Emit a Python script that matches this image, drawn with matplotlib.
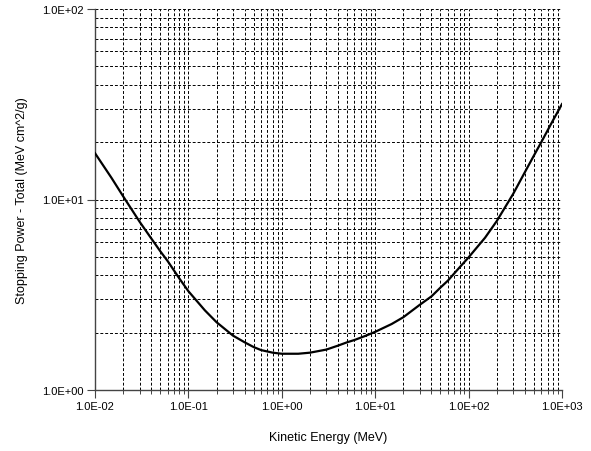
import numpy as np
import matplotlib
matplotlib.use("Agg")
import matplotlib.pyplot as plt
from matplotlib.ticker import LogLocator, FuncFormatter, NullFormatter

plt.rcParams["font.family"] = ["Liberation Sans", "DejaVu Sans"]

# kinetic energy (MeV) and total stopping power (MeV cm^2/g)
energy = [0.01, 0.015, 0.02, 0.03, 0.04, 0.05, 0.06, 0.08, 0.1, 0.15, 0.2, 0.3,
          0.4, 0.5, 0.6, 0.8, 1.0, 1.5, 2, 3, 4, 5, 6, 8, 10, 15, 20, 30, 40,
          50, 60, 80, 100, 150, 200, 300, 400, 500, 600, 800, 1000]
stopping = [17.5, 13.0, 10.4, 7.65, 6.25, 5.35, 4.75, 3.85, 3.3, 2.62, 2.27, 1.93,
            1.78, 1.68, 1.62, 1.57, 1.55, 1.55, 1.57, 1.63, 1.71, 1.78, 1.83, 1.93,
            2.02, 2.22, 2.41, 2.8, 3.1, 3.45, 3.75, 4.4, 4.97, 6.3, 7.7, 10.7,
            13.9, 17.0, 20.0, 26.0, 31.7]


def sci(v, pos):
    return f"{v:.1E}"


fig = plt.figure(figsize=(5.91, 4.52), dpi=100)
ax = fig.add_axes([95 / 591, 1 - 391 / 452, 467 / 591, 381 / 452])

ax.plot(energy, stopping, color="black", lw=1.6, zorder=3)

ax.set_xscale("log")
ax.set_yscale("log")
ax.set_xlim(1e-2, 1e3)
ax.set_ylim(1, 100)

ax.xaxis.set_major_locator(LogLocator(base=10, numticks=10))
ax.yaxis.set_major_locator(LogLocator(base=10, numticks=10))
ax.xaxis.set_minor_locator(LogLocator(base=10, subs=np.arange(2, 10), numticks=20))
ax.yaxis.set_minor_locator(LogLocator(base=10, subs=np.arange(2, 10), numticks=20))
ax.xaxis.set_major_formatter(FuncFormatter(sci))
ax.yaxis.set_major_formatter(FuncFormatter(sci))
ax.xaxis.set_minor_formatter(NullFormatter())
ax.yaxis.set_minor_formatter(NullFormatter())

# dashed grid at every decade and sub-decade
ax.grid(which="both", color="black", ls=(0, (3, 2)), lw=0.7)
ax.set_axisbelow(True)

for side in ("top", "right"):
    ax.spines[side].set_visible(False)
for side in ("left", "bottom"):
    ax.spines[side].set_color("#444444")
    ax.spines[side].set_linewidth(1.0)

ax.tick_params(which="major", direction="out", length=6, width=0.8,
               color="#444444", labelsize=8, pad=2)
ax.tick_params(axis="x", which="minor", direction="out", length=3, width=0.7,
               color="#444444")
ax.tick_params(axis="y", which="minor", length=0)

ax.set_xlabel("Kinetic Energy (MeV)", fontsize=9, labelpad=14)
ax.set_ylabel("Stopping Power - Total (MeV cm^2/g)", fontsize=9, labelpad=10)

fig.savefig("out.png", dpi=100)
